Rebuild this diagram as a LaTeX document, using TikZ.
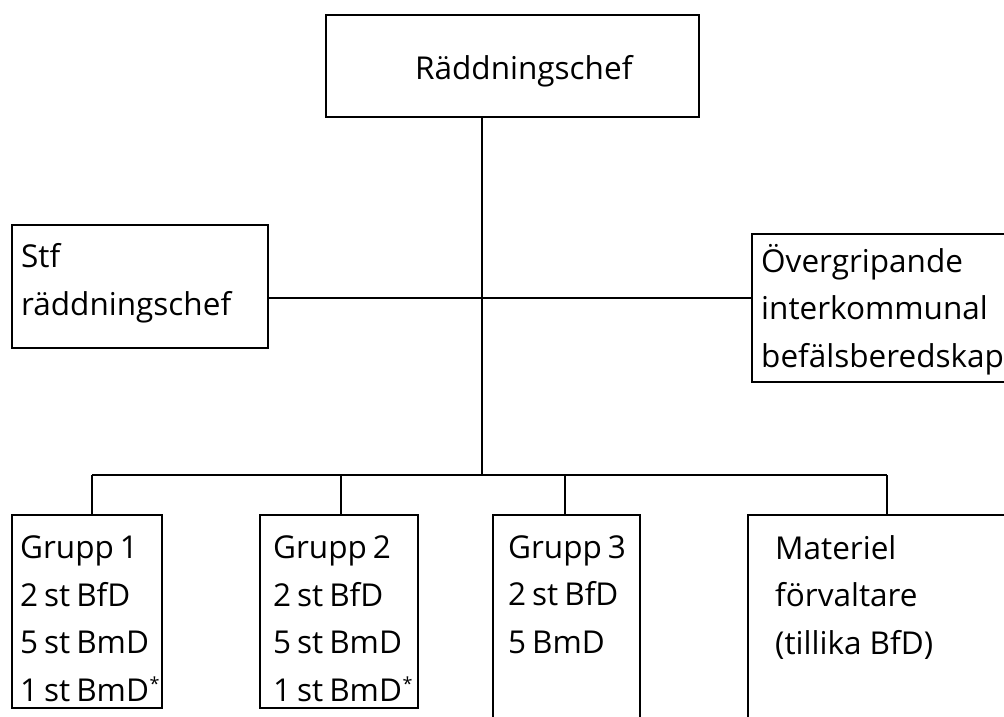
\documentclass[tikz,border=0pt]{standalone}
\usepackage{fontspec}
\setmainfont{Open Sans}
\newcommand{\smast}{\kern0.5pt\raisebox{11pt}{\fontsize{18}{18}\selectfont*}}
\newcommand{\gfont}{\fontsize{31.5}{47.5}\selectfont\spaceskip 0.19em\relax}
\begin{document}
\begin{tikzpicture}[x=1pt,y=-1pt,
  box/.style={draw, line width=1.8pt, inner sep=0pt, outer sep=0pt, anchor=north west},
  txt/.style={anchor=base west, inner sep=0pt, align=left, font=\fontsize{31.5}{47.5}\selectfont},
  gtxt/.style={txt, font=\gfont},
  conn/.style={line width=1.8pt}]
\useasboundingbox (0,0) rectangle (1004,717);
\clip (0,0) rectangle (1004,717);
% boxes
\node[box, minimum width=373pt, minimum height=102pt] (chief) at (326,15) {};
\node[box, minimum width=256pt, minimum height=123pt] (stf) at (12,225) {};
\node[box, minimum width=270pt, minimum height=148pt] (over) at (752,234) {};
\node[box, minimum width=150pt, minimum height=193pt] (g1) at (12,515) {};
\node[box, minimum width=158pt, minimum height=193pt] (g2) at (260,515) {};
\node[box, minimum width=147pt, minimum height=215pt] (g3) at (493,515) {};
\node[box, minimum width=270pt, minimum height=215pt] (mat) at (748,515) {};
% texts (anchor base = baseline of last line)
\node[txt] (chieft) at (415,80) {Räddningschef};
\node[txt] (stft) at (21,315) {Stf\\räddningschef};
\node[txt] (overt) at (761,367) {Övergripande\\interkommunal\\befälsberedskap};
\node[gtxt] (g1t) at (20,701) {Grupp 1\\2 st BfD\\5 st BmD\\1 st BmD\smast};
\node[gtxt] (g2t) at (273,701) {Grupp 2\\2 st BfD\\5 st BmD\\1 st BmD\smast};
\node[gtxt] (g3t) at (508,653) {Grupp 3\\2 st BfD\\5 BmD};
\node[txt] (matt) at (775,654) {Materiel\\förvaltare\\(tillika BfD)};
% connectors
\coordinate (mid) at (482,298);
\coordinate (bus) at (482,475);
\coordinate (busl) at (92,475);
\coordinate (busr) at (887,475);
\coordinate (g2c) at (341,475);
\coordinate (g3c) at (565,475);
\draw[conn] (chief.south -| mid) -- (bus);
\draw[conn] (stf.east |- mid) -- (over.west |- mid);
\draw[conn] (busl) -- (busr);
\draw[conn] (busl) -- (busl |- g1.north);
\draw[conn] (g2c) -- (g2c |- g2.north);
\draw[conn] (g3c) -- (g3c |- g3.north);
\draw[conn] (busr) -- (busr |- mat.north);
\end{tikzpicture}
\end{document}
